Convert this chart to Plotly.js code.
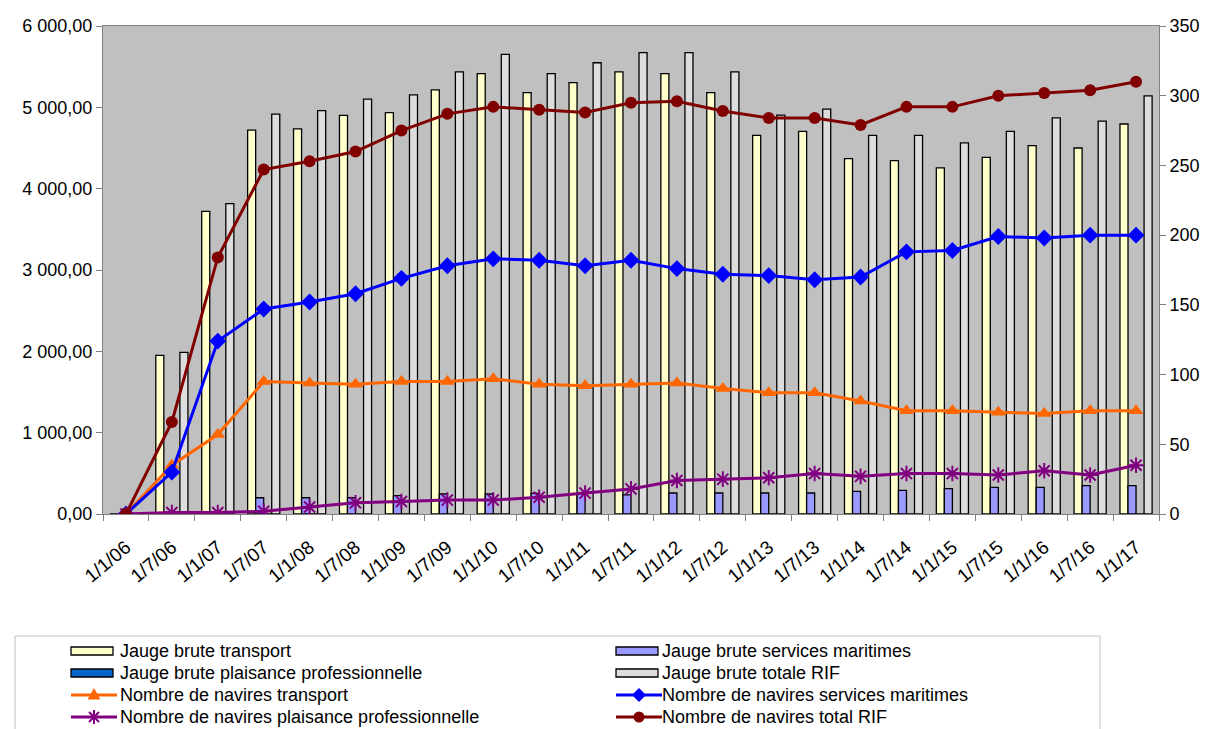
<!DOCTYPE html>
<html>
<head>
<meta charset="utf-8">
<script src="https://cdn.plot.ly/plotly-3.0.1.min.js"></script>
<style>
  html, body { margin: 0; padding: 0; background: #ffffff; }
  #chart { width: 1211px; height: 729px; }
</style>
</head>
<body>
<div id="chart"></div>
<script>
// Categories (dates)
const dates = ['1/1/06','1/7/06','1/1/07','1/7/07','1/1/08','1/7/08','1/1/09','1/7/09','1/1/10','1/7/10','1/1/11','1/7/11','1/1/12','1/7/12','1/1/13','1/7/13','1/1/14','1/7/14','1/1/15','1/7/15','1/1/16','1/7/16','1/1/17'];

// Gross tonnage (left axis)
const jaugeTransport = [0, 1950, 3720, 4720, 4735, 4900, 4935, 5215, 5415, 5180, 5305, 5435, 5415, 5180, 4655, 4705, 4370, 4345, 4255, 4385, 4530, 4500, 4795];
const jaugeServices  = [0, 0, 0, 200, 200, 200, 225, 246, 246, 254, 250, 234, 258, 258, 258, 258, 278, 291, 311, 327, 327, 348, 348];
const jaugePlaisance = [0, 0, 0, 0, 0, 0, 0, 0, 0, 0, 0, 0, 0, 0, 0, 0, 0, 0, 0, 0, 0, 0, 0];
const jaugeTotale    = [0, 1988, 3815, 4917, 4959, 5100, 5154, 5435, 5651, 5415, 5548, 5672, 5672, 5435, 4904, 4979, 4655, 4655, 4564, 4705, 4871, 4830, 5140];

// Number of ships (right axis)
const naviresTransport = [0, 35, 57, 95, 94, 93, 95, 95, 97, 93, 92, 93, 94, 90, 87, 87, 81, 74, 74, 73, 72, 74, 74];
const naviresServices  = [0, 30, 124, 147, 152, 158, 169, 178, 183, 182, 178, 182, 176, 172, 171, 168, 170, 188, 189, 199, 198, 200, 200];
const naviresPlaisance = [0, 1, 1, 2, 5, 8, 9, 10, 10, 12, 15, 18, 24, 25, 26, 29, 27, 29, 29, 28, 31, 28, 35];
const naviresTotal     = [0, 66, 184, 247, 253, 260, 275, 287, 292, 290, 288, 295, 296, 289, 284, 284, 279, 292, 292, 300, 302, 304, 310];

// Series names
const barNames = ['Jauge brute transport', 'Jauge brute services maritimes', 'Jauge brute plaisance professionnelle', 'Jauge brute totale RIF'];
const lineNames = ['Nombre de navires transport', 'Nombre de navires services maritimes', 'Nombre de navires plaisance professionnelle', 'Nombre de navires total RIF'];

// Tick values
const leftTicks = [0, 1000, 2000, 3000, 4000, 5000, 6000];
const rightTicks = [0, 50, 100, 150, 200, 250, 300, 350];

// Styles
const barColors = ['#FFFFCC', '#9999FF', '#0066CC', '#DDDDDD'];
const lineColors = ['#FF6600', '#0000FF', '#800080', '#800000'];
const lineSymbols = ['triangle-up', 'diamond', 'asterisk-open', 'circle'];

const FONT = 'Arial, "Liberation Sans", sans-serif';
const barLine = { color: '#000000', width: 1.3 };

const barSeries = [jaugeTransport, jaugeServices, jaugePlaisance, jaugeTotale];
const lineSeries = [naviresTransport, naviresServices, naviresPlaisance, naviresTotal];

const data = [];
barSeries.forEach((y, i) => {
  data.push({ type: 'bar', name: barNames[i], x: dates, y: y, yaxis: 'y',
              marker: { color: barColors[i], line: barLine } });
});
lineSeries.forEach((y, i) => {
  const mk = { color: lineColors[i], symbol: lineSymbols[i], size: i === 3 ? 12 : 13 };
  if (lineSymbols[i] === 'asterisk-open') mk.line = { color: lineColors[i], width: 2 };
  data.push({ type: 'scatter', mode: 'lines+markers', name: lineNames[i], x: dates, y: y, yaxis: 'y2',
              line: { color: lineColors[i], width: 3 }, marker: mk });
});

// ---- plot-area geometry (pixels) used to place the hand-drawn legend ----
const PL = 103, PR = 1159, PT = 26, PB = 514;
const PX = v => (v - PL) / (PR - PL);
const PY = v => (PB - v) / (PB - PT);

const shapes = [];
const annotations = [];

// legend frame
shapes.push({ type: 'rect', xref: 'paper', yref: 'paper',
  x0: PX(15), x1: PX(1100), y0: PY(636), y1: PY(760),
  line: { color: '#C0C0C0', width: 1 }, fillcolor: 'rgba(0,0,0,0)' });

const rowY = [651, 673, 695, 717];
const colSym = [71, 616];
const colText = [118, 660];

function legendText(txt, x, y) {
  annotations.push({ xref: 'paper', yref: 'paper', x: PX(x), y: PY(y),
    xanchor: 'left', yanchor: 'middle', showarrow: false, text: txt,
    font: { family: FONT, size: 18, color: '#000000' } });
}
function pathOf(points) {
  return points.map(p => (p[0] === 'M' ? 'M' : 'L') + PX(p[1]) + ',' + PY(p[2])).join(' ');
}
function legendBar(i, col, row) {
  const x = colSym[col], y = rowY[row];
  shapes.push({ type: 'rect', xref: 'paper', yref: 'paper',
    x0: PX(x), x1: PX(x + 42), y0: PY(y + 4), y1: PY(y - 4),
    fillcolor: barColors[i], line: { color: '#000000', width: 1.3 } });
  legendText(barNames[i], colText[col], y);
}
function legendLine(i, col, row) {
  const x = colSym[col], y = rowY[row], c = lineColors[i];
  const cx = x + 23;
  shapes.push({ type: 'line', xref: 'paper', yref: 'paper',
    x0: PX(x), x1: PX(x + 46), y0: PY(y), y1: PY(y), line: { color: c, width: 3 } });
  const sym = lineSymbols[i];
  if (sym === 'circle') {
    shapes.push({ type: 'circle', xref: 'paper', yref: 'paper',
      x0: PX(cx - 5.5), x1: PX(cx + 5.5), y0: PY(y + 5.5), y1: PY(y - 5.5),
      fillcolor: c, line: { color: c, width: 0 } });
  } else if (sym === 'triangle-up') {
    shapes.push({ type: 'path', xref: 'paper', yref: 'paper',
      path: pathOf([['M', cx, y - 7], ['L', cx + 6.5, y + 4.5], ['L', cx - 6.5, y + 4.5]]) + ' Z',
      fillcolor: c, line: { color: c, width: 0 } });
  } else if (sym === 'diamond') {
    shapes.push({ type: 'path', xref: 'paper', yref: 'paper',
      path: pathOf([['M', cx, y - 7], ['L', cx + 7, y], ['L', cx, y + 7], ['L', cx - 7, y]]) + ' Z',
      fillcolor: c, line: { color: c, width: 0 } });
  } else {
    shapes.push({ type: 'path', xref: 'paper', yref: 'paper',
      path: pathOf([['M', cx, y - 7], ['L', cx, y + 7], ['M', cx - 5, y - 5], ['L', cx + 5, y + 5],
                    ['M', cx - 5, y + 5], ['L', cx + 5, y - 5]]),
      line: { color: c, width: 2 } });
  }
  legendText(lineNames[i], colText[col], y);
}
legendBar(0, 0, 0); legendBar(1, 1, 0);
legendBar(2, 0, 1); legendBar(3, 1, 1);
legendLine(0, 0, 2); legendLine(1, 1, 2);
legendLine(2, 0, 3); legendLine(3, 1, 3);

const layout = {
  width: 1211, height: 729,
  margin: { l: PL, r: 1211 - PR, t: PT, b: 729 - PB },
  paper_bgcolor: '#FFFFFF',
  plot_bgcolor: '#C0C0C0',
  separators: ', ',
  font: { family: FONT, color: '#000000', size: 17 },
  barmode: 'group',
  bargap: 0.3,
  bargroupgap: 0,
  showlegend: false,
  xaxis: {
    type: 'category',
    range: [-0.5, dates.length - 0.5], autorange: false,
    tickson: 'boundaries',
    ticks: 'outside', ticklen: 6, tickcolor: '#808080', tickwidth: 1,
    showline: true, linecolor: '#808080', linewidth: 1, mirror: true,
    showgrid: false, zeroline: false,
    tickangle: -40,
    ticklabelstandoff: 14,
    tickfont: { family: FONT, size: 19, color: '#000000' },
    automargin: false
  },
  yaxis: {
    range: [0, 6000],
    tickvals: leftTicks,
    tickformat: ',.2f',
    ticks: 'outside', ticklen: 6, tickcolor: '#808080',
    showline: true, linecolor: '#808080', linewidth: 1,
    showgrid: false, zeroline: false,
    tickfont: { family: FONT, size: 18, color: '#000000' },
    automargin: false
  },
  yaxis2: {
    overlaying: 'y', side: 'right',
    range: [0, 350],
    tickvals: rightTicks,
    ticks: 'outside', ticklen: 6, tickcolor: '#808080',
    showline: true, linecolor: '#808080', linewidth: 1,
    showgrid: false, zeroline: false,
    tickfont: { family: FONT, size: 18, color: '#000000' },
    automargin: false
  },
  shapes: shapes,
  annotations: annotations
};

Plotly.newPlot('chart', data, layout, { displayModeBar: false, staticPlot: true });
</script>
</body>
</html>
